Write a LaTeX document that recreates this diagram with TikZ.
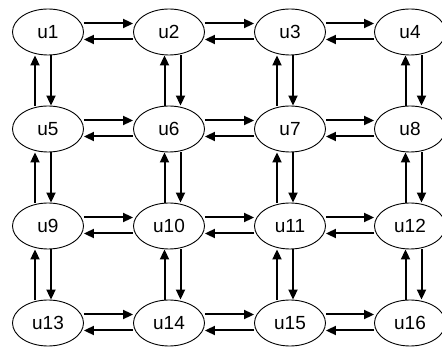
\documentclass[tikz,border=0pt]{standalone}
\usepackage{fontspec}
\setmainfont{Liberation Sans}
\usetikzlibrary{
  arrows.meta,
  shapes.geometric
}
\tikzset{
  cell/.style={draw, ellipse, line width=0.9pt, minimum width=71pt, minimum height=46pt, inner sep=0pt, font=\fontsize{19}{22}\selectfont},
  link/.style={line width=2pt, -{Triangle[length=10pt, width=9pt]}}
}

\begin{document}
\begin{tikzpicture}[x=1pt, y=1pt]
  \clip (0,0) rectangle (442,-347);
  % 4x4 grid of ellipses u1..u16
  \foreach \r/\y in {0/32,1/129,2/226,3/323}
    \foreach \c/\x in {0/48,1/169,2/290,3/410} {
      \pgfmathtruncatemacro{\n}{4*\r+\c+1}
      \node[cell] (u\n) at (\x,-\y) {u\n};
    }
  % left/right pairs
  \foreach \r in {0,...,3}
    \foreach \c in {0,1,2} {
      \pgfmathtruncatemacro{\n}{4*\r+\c+1}
      \pgfmathtruncatemacro{\m}{\n+1}
      \draw[link] ([yshift=8.5pt]u\n.east) -- ([yshift=8.5pt]u\m.west);
      \draw[link] ([yshift=-7.5pt]u\m.west) -- ([yshift=-7.5pt]u\n.east);
    }
  % up/down pairs
  \foreach \r in {0,1,2}
    \foreach \c/\dx in {0/-5,1/3.5,2/-5,3/3.5} {
      \pgfmathtruncatemacro{\n}{4*\r+\c+1}
      \pgfmathtruncatemacro{\m}{\n+4}
      \draw[link] ([xshift=\dx pt+8pt]u\n.south) -- ([xshift=\dx pt+8pt]u\m.north);
      \draw[link] ([xshift=\dx pt-8pt]u\m.north) -- ([xshift=\dx pt-8pt]u\n.south);
    }
\end{tikzpicture}
\end{document}
